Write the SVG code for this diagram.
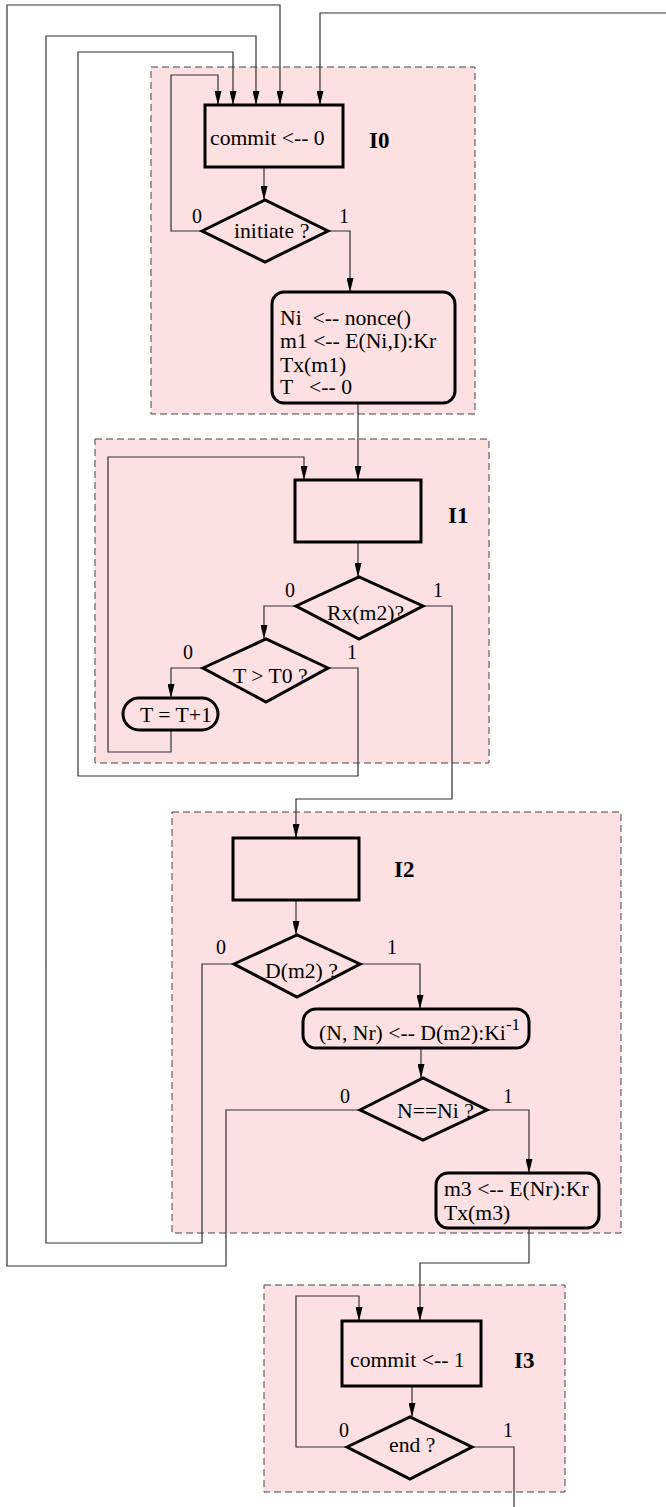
<svg xmlns="http://www.w3.org/2000/svg" width="666" height="1507" viewBox="0 0 666 1507">
<style>
.grp{fill:#fde0e1;stroke:#444;stroke-width:1;stroke-dasharray:7,4}
.nd{fill:none;stroke:#000;stroke-width:3}
.cn{fill:none;stroke:#333;stroke-width:1.2}
.t{font-family:"Liberation Serif","Times New Roman",serif;font-size:21.7px;fill:#000}
.lb{font-family:"Liberation Serif","Times New Roman",serif;font-size:20px;fill:#000}
.gl{font-family:"Liberation Serif","Times New Roman",serif;font-size:23px;font-weight:bold;fill:#000}
.sup{font-size:17px}
</style>
<defs>
<marker id="ah" markerUnits="userSpaceOnUse" markerWidth="14" markerHeight="7" refX="14" refY="3.5" orient="auto">
<path d="M0,0 L14,3.5 L0,7 z" fill="#000"/>
</marker>
</defs>
<rect width="666" height="1507" fill="#fff"/>
<g id="group-I0"><rect class="grp" x="151" y="67" width="324" height="347"/><text class="gl" x="369" y="148">I0</text></g>
<g id="group-I1"><rect class="grp" x="95" y="439" width="394" height="324"/><text class="gl" x="448" y="523">I1</text></g>
<g id="group-I2"><rect class="grp" x="172" y="812" width="449" height="421"/><text class="gl" x="394" y="877">I2</text></g>
<g id="group-I3"><rect class="grp" x="264" y="1285" width="301" height="207"/><text class="gl" x="514" y="1368">I3</text></g>
<g id="connectors">
<polyline class="cn" marker-end="url(#ah)" points="360,1110 226,1110 226,1266 7,1266 7,5 280,5 280,105"/>
<polyline class="cn" marker-end="url(#ah)" points="234,964 202,964 202,1243 46,1243 46,36 256,36 256,105"/>
<polyline class="cn" marker-end="url(#ah)" points="328,668 358,668 358,776 78,776 78,52 233,52 233,105"/>
<polyline class="cn" marker-end="url(#ah)" points="202,231 171,231 171,75 218,75 218,105"/>
<polyline class="cn" marker-end="url(#ah)" points="666,13 320,13 320,105"/>
<polyline class="cn" points="472,1447 514,1447 514,1507"/>
<polyline class="cn" marker-end="url(#ah)" points="264,167 264,200"/>
<polyline class="cn" marker-end="url(#ah)" points="328,231 350,231 350,292"/>
<polyline class="cn" marker-end="url(#ah)" points="358,403 358,480"/>
<polyline class="cn" marker-end="url(#ah)" points="358,542 358,577"/>
<polyline class="cn" marker-end="url(#ah)" points="296,606 264,606 264,639"/>
<polyline class="cn" marker-end="url(#ah)" points="423,606 452,606 452,799 296,799 296,838"/>
<polyline class="cn" marker-end="url(#ah)" points="203,668 171,668 171,698"/>
<polyline class="cn" marker-end="url(#ah)" points="171,730 171,752 108,752 108,457 304,457 304,480"/>
<polyline class="cn" marker-end="url(#ah)" points="296,900 296,935"/>
<polyline class="cn" marker-end="url(#ah)" points="360,964 420,964 420,1009"/>
<polyline class="cn" marker-end="url(#ah)" points="421,1048 421,1078"/>
<polyline class="cn" marker-end="url(#ah)" points="487,1110 529,1110 529,1173"/>
<polyline class="cn" marker-end="url(#ah)" points="529,1228 529,1263 420,1263 420,1321"/>
<polyline class="cn" marker-end="url(#ah)" points="412,1386 412,1417"/>
<polyline class="cn" marker-end="url(#ah)" points="347,1447 296,1447 296,1296 359,1296 359,1321"/>
<text class="lb" x="192" y="223">0</text><text class="lb" x="339" y="223">1</text>
<text class="lb" x="285" y="597">0</text><text class="lb" x="433" y="597">1</text>
<text class="lb" x="183" y="659">0</text><text class="lb" x="347" y="659">1</text>
<text class="lb" x="216" y="954">0</text><text class="lb" x="387" y="954">1</text>
<text class="lb" x="340" y="1103">0</text><text class="lb" x="503" y="1103">1</text>
<text class="lb" x="339" y="1437">0</text><text class="lb" x="503" y="1437">1</text>
</g>
<g id="commit0"><rect class="nd" x="205" y="105" width="138" height="62"/><text class="t" x="210" y="145">commit &lt;-- 0</text></g>
<g id="initiate"><polygon class="nd" points="202,231 265,200 328,231 265,262"/><text class="t" x="234" y="238">initiate ?</text></g>
<g id="nonce"><rect class="nd" x="272" y="292" width="183" height="111" rx="12"/>
<text class="t" x="280" y="325" xml:space="preserve">Ni  &lt;-- nonce()</text>
<text class="t" x="280" y="348">m1 &lt;-- E(Ni,I):Kr</text>
<text class="t" x="280" y="372">Tx(m1)</text>
<text class="t" x="280" y="394" xml:space="preserve">T   &lt;-- 0</text></g>
<g id="wait1"><rect class="nd" x="295" y="480" width="126" height="62"/></g>
<g id="rx"><polygon class="nd" points="296,606 359,577 423,606 359,639"/><text class="t" x="327" y="620">Rx(m2)?</text></g>
<g id="timeout"><polygon class="nd" points="203,668 266,639 328,668 266,702"/><text class="t" x="233" y="683">T &gt; T0 ?</text></g>
<g id="inc"><rect class="nd" x="123" y="698" width="95" height="32" rx="16"/><text class="t" x="140" y="722">T = T+1</text></g>
<g id="wait2"><rect class="nd" x="233" y="838" width="126" height="62"/></g>
<g id="dm2"><polygon class="nd" points="234,964 297,935 360,964 297,997"/><text class="t" x="265" y="978">D(m2) ?</text></g>
<g id="decrypt"><rect class="nd" x="303" y="1009" width="226" height="39" rx="13"/><text class="t" x="319" y="1040">(N, Nr) &lt;-- D(m2):Ki<tspan class="sup" dy="-10">-1</tspan></text></g>
<g id="check"><polygon class="nd" points="360,1110 423,1078 487,1110 423,1140"/><text class="t" x="397" y="1118">N==Ni ?</text></g>
<g id="m3"><rect class="nd" x="436" y="1173" width="163" height="55" rx="12"/><text class="t" x="444" y="1196">m3 &lt;-- E(Nr):Kr</text><text class="t" x="444" y="1220">Tx(m3)</text></g>
<g id="commit1"><rect class="nd" x="342" y="1321" width="139" height="65"/><text class="t" x="350" y="1367">commit &lt;-- 1</text></g>
<g id="end"><polygon class="nd" points="347,1447 410,1417 472,1447 410,1479"/><text class="t" x="389" y="1452">end ?</text></g>
</svg>
